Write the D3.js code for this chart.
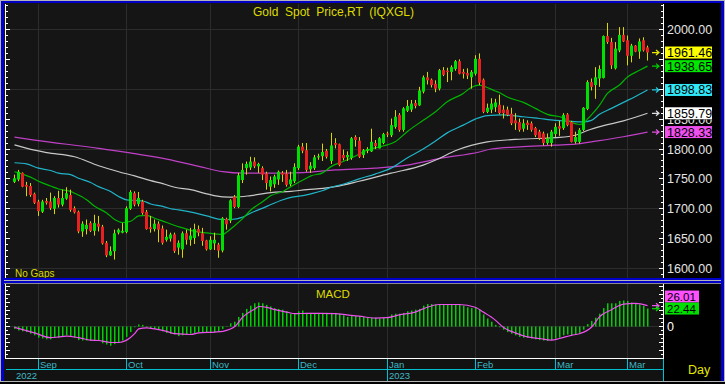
<!DOCTYPE html>
<html><head><meta charset="utf-8">
<script src="https://cdn.jsdelivr.net/npm/d3@7"></script>
<style>html,body{margin:0;padding:0;background:#000;overflow:hidden}svg{display:block}text{font-family:"Liberation Sans",Arial,sans-serif}</style>
</head><body><svg id="c" width="725" height="384"></svg>
<script>
// ---------- DATA ----------
const open=[1745,1749,1760,1740,1738,1725,1712,1695,1713,1712,1700,1718,1707,1717,1723,1701,1695,1662,1666,1676,1663,1675,1670,1643,1622,1629,1660,1660,1661,1700,1726,1708,1712,1695,1669,1666,1675,1667,1648,1650,1657,1635,1632,1659,1648,1651,1666,1659,1647,1632,1642,1640,1630,1683,1680,1720,1703,1748,1768,1769,1779,1771,1768,1759,1737,1741,1749,1760,1759,1741,1746,1768,1804,1798,1766,1768,1786,1788,1797,1780,1810,1808,1790,1786,1785,1820,1814,1790,1797,1796,1810,1801,1810,1826,1823,1837,1857,1832,1864,1866,1877,1873,1896,1920,1916,1909,1901,1932,1931,1929,1934,1947,1929,1927,1920,1926,1951,1916,1862,1866,1870,1874,1866,1866,1859,1848,1845,1834,1844,1843,1835,1829,1826,1810,1810,1825,1838,1835,1858,1845,1812,1812,1832,1867,1912,1907,1918,1919,1989,1979,1935,1965,1991,1982,1956,1973,1963,1982,1970];
const high=[1757,1765,1761,1745,1743,1727,1715,1715,1718,1727,1721,1730,1732,1736,1732,1704,1697,1679,1682,1679,1690,1688,1673,1646,1637,1665,1667,1676,1704,1731,1729,1728,1715,1698,1688,1682,1679,1672,1665,1660,1660,1647,1662,1665,1668,1675,1672,1668,1648,1654,1660,1643,1686,1685,1716,1723,1760,1776,1779,1787,1786,1777,1771,1762,1754,1757,1764,1763,1765,1762,1776,1807,1810,1810,1778,1790,1792,1809,1800,1827,1818,1809,1799,1796,1820,1823,1820,1800,1803,1834,1815,1820,1827,1829,1851,1865,1860,1870,1882,1882,1882,1904,1923,1929,1918,1915,1934,1937,1936,1940,1949,1950,1934,1935,1932,1957,1960,1918,1876,1885,1884,1891,1873,1871,1869,1860,1851,1850,1848,1846,1837,1832,1829,1826,1832,1843,1847,1860,1860,1847,1829,1835,1870,1915,1918,1937,1940,1990,2011,1986,1979,2004,2004,1990,1976,1974,1985,1987,1973];
const low=[1743,1746,1736,1721,1720,1708,1688,1693,1707,1698,1691,1702,1704,1715,1695,1692,1659,1653,1657,1661,1655,1662,1640,1619,1621,1615,1657,1659,1659,1698,1704,1704,1690,1665,1660,1662,1644,1640,1645,1645,1626,1623,1618,1640,1638,1641,1654,1638,1630,1631,1631,1618,1627,1665,1676,1701,1701,1743,1757,1765,1768,1760,1748,1732,1729,1735,1740,1745,1737,1738,1743,1765,1793,1762,1760,1765,1782,1780,1784,1775,1801,1771,1781,1780,1782,1804,1785,1785,1793,1795,1800,1801,1808,1820,1820,1834,1829,1829,1862,1862,1868,1872,1893,1908,1903,1895,1898,1922,1912,1915,1931,1925,1918,1917,1901,1923,1907,1860,1860,1860,1862,1858,1851,1855,1840,1832,1829,1829,1832,1829,1820,1815,1806,1807,1804,1820,1822,1832,1838,1811,1809,1809,1830,1865,1898,1884,1904,1918,1976,1934,1933,1962,1979,1940,1945,1962,1951,1963,1948];
const close=[1751,1762,1737,1737,1723,1710,1696,1712,1710,1701,1718,1707,1718,1726,1698,1694,1662,1675,1673,1663,1676,1670,1642,1622,1629,1659,1665,1663,1701,1728,1707,1718,1693,1666,1666,1675,1665,1643,1653,1657,1629,1643,1659,1648,1655,1666,1660,1646,1632,1648,1648,1630,1684,1674,1714,1703,1756,1765,1775,1779,1771,1775,1757,1743,1748,1754,1762,1757,1740,1749,1770,1804,1797,1765,1772,1786,1788,1795,1787,1806,1807,1773,1785,1790,1818,1815,1787,1798,1800,1812,1805,1818,1825,1824,1840,1854,1832,1868,1872,1876,1872,1898,1920,1915,1907,1901,1932,1924,1929,1937,1947,1926,1926,1923,1929,1951,1911,1862,1869,1876,1878,1860,1860,1857,1843,1843,1832,1843,1840,1832,1823,1818,1810,1818,1829,1837,1834,1857,1840,1812,1820,1832,1869,1912,1904,1920,1934,1989,1979,1940,1968,1991,1980,1956,1973,1963,1980,1965,1961.46];

// moving averages: [candle index, value] points
const maGreen=[[0,1762],[2,1758],[4,1753],[6,1746],[9,1738],[11,1733],[14,1729],[15,1726],[18,1715],[20,1704],[23,1693],[25,1682],[27,1677],[29,1679],[31,1688],[33,1689],[35,1684],[38,1677],[40,1672],[42,1668],[45,1662],[48,1659.5],[52,1657],[53,1661],[55,1672],[57,1684],[59,1698],[62,1712],[64,1722],[67,1729],[69,1737],[72,1748],[74,1755],[77,1760.5],[79,1770.5],[82,1779],[85,1788],[88,1798],[92,1805],[95,1812],[98,1829],[102,1848],[105,1862],[108,1879],[112,1893],[114,1903],[116,1907],[118,1903],[120,1897],[121,1894.5],[123,1887],[127,1878],[130,1868],[133,1858],[137,1852],[139,1844.5],[141,1841],[142,1843],[143,1850],[144,1857],[146,1873],[148,1893],[151,1907],[153,1920.5],[156,1931.7],[158,1938.65]];
const maCyan=[[0,1777],[3,1775],[6,1768],[9,1764],[11,1759.5],[14,1757],[16,1751],[19,1744],[21,1737],[24,1729],[26,1720.5],[28,1715],[30,1714],[32,1713],[34,1708],[37,1704],[39,1700],[41,1698],[45,1693],[48,1688],[52,1682],[54,1682],[57,1686],[59,1693],[62,1701],[64,1707],[67,1715],[69,1719],[72,1722],[74,1725],[77,1730.5],[79,1736],[82,1741],[86,1750],[90,1758],[94,1768],[98,1785],[102,1800],[105,1813],[108,1827],[112,1840],[115,1850],[118,1856],[122,1857],[127,1854],[131,1851],[135,1848],[138,1846.7],[142,1845.5],[144,1848],[146,1858],[149,1868],[152,1878],[155,1888],[158,1898.83]];
const maWhite=[[0,1807],[5,1798],[8,1794],[15,1787],[21,1772],[26,1762],[30,1755],[34,1747],[37,1742],[40,1736],[44,1732],[48,1725],[52,1720],[55,1719.5],[59,1722],[64,1727],[69,1729],[73,1732],[77,1734],[80,1737],[86,1746],[94,1759.5],[102,1773],[106,1784],[110,1797],[114,1806],[118,1812],[127,1816.7],[135,1819],[140,1823],[143,1831],[147,1839],[152,1847],[158,1859.79]];
const maMagenta=[[0,1820],[5,1815],[21,1801],[38,1783],[46,1771],[52,1762],[57,1759.5],[64,1759.5],[72,1760.5],[80,1765],[90,1768],[98,1773],[106,1784],[116,1795],[119,1800],[127,1804],[135,1806.5],[140,1808],[144,1812],[152,1820.5],[158,1828.33]];

const macd=[-3,-5,-6,-7,-9,-11,-14,-15,-16,-16,-14,-14,-12.5,-11,-12.5,-14,-17,-17.5,-17.5,-18,-17.5,-18,-21,-22.5,-24,-22,-20,-17.5,-13,-7,-1,2.5,2,-1,-2,-3,-4,-6,-8,-9,-10,-12,-11,-10,-9,-8,-7,-7,-8,-7,-7,-6,-3,0.5,4,6,12,17,22,26,29,30,29,27,25,23,22,21,19,16,16,19,20,17,17,17,17,17,17,17,17,16,14,12,13,13,13,12,11,11,11,10,11,12,15,16,16,17,19,20,21,22,26,28,28,27.5,28,28,28,28,28,27.5,26,24,23,24,21,15,10,6,2,-1,-4,-7,-9,-11,-13,-14,-14,-15,-16,-17,-17.5,-18,-17,-15,-14,-11,-10,-11,-10,-8,-4,3,7,11,16,23,29,29,29,32,32.5,32,30,29,27.5,26,22.44];
const signal=[[0,-1],[5,-8],[9,-14],[11,-13],[13,-12],[16,-14],[19,-17],[21,-17.5],[24,-20],[26,-20],[28,-17],[30,-9],[31,-3],[33,-1.7],[35,-3],[38,-6],[40,-9],[44,-10],[46,-8],[50,-7],[52,-6],[55,0],[57,12],[60,22],[61,25],[63,24],[65,21],[68,18],[70,16],[73,16.5],[76,16.5],[80,16],[83,14.5],[86,13],[90,10.5],[93,11],[96,14.5],[100,18],[103,24],[106,27.5],[111,27.5],[115,24],[117,18],[120,8],[122,-1],[125,-8],[128,-13],[131,-15],[134,-17],[136,-15],[139,-11],[141,-9],[144,-1],[146,12],[149,21],[152,28],[155,29],[158,26.01]];

const monthIdx=[6,28,49,71,93,115,135,153];
const monthLabels=["Sep","Oct","Nov","Dec","Jan","Feb","Mar","Mar"];
const yearIdx=[0,93];
const yearLabels=["2022","2023"];
// price labels that are visible (1950 and 1900 sit fully under the value tags)
const priceTicks=[1600,1650,1700,1750,1800,1850,2000];
const priceGrid=[1600,1700,1800,1900,2000];
const tagValues=[1961.46,1938.65,1898.83,1859.79,1828.33];
const macdTagValues=[26.01,22.44];

// ---------- DRAW ----------
const svg=d3.select("#c");
const L=6,R=663,mTop=3,mBot=278,qTop=284,qBot=358;
const x=d3.scaleLinear().domain([0,158]).range([14.5,647.5]);
const px=k=>Math.round(x(k)-0.5)+0.5;
const y=d3.scaleLinear().domain([1600,2000]).range([268.5,29.5]);
const ym=d3.scaleLinear().domain([0,30]).range([326.5,302.5]);
const snap=v=>Math.round(v-0.5)+0.5;
const grid="#2c2c2c";

svg.append("rect").attr("width",725).attr("height",384).attr("fill","#000");
svg.append("rect").attr("x",4).attr("y",mTop).attr("width",R-4).attr("height",mBot-mTop).attr("fill","#151515");
svg.append("rect").attr("x",4).attr("y",qTop).attr("width",R-4).attr("height",qBot-qTop).attr("fill","#151515");
svg.append("rect").attr("x",4).attr("y",qBot+1).attr("width",R-4).attr("height",381-qBot-1).attr("fill","#121212");

const defs=svg.append("defs");
defs.append("clipPath").attr("id","cm").append("rect").attr("x",L).attr("y",mTop+1).attr("width",R-L).attr("height",mBot-mTop-1);
defs.append("clipPath").attr("id","cq").append("rect").attr("x",L).attr("y",qTop).attr("width",R-L).attr("height",qBot-qTop);
defs.append("clipPath").attr("id","c1850").append("rect").attr("x",664).attr("y",119.6).attr("width",57).attr("height",8);

// grid
const g=svg.append("g");
priceGrid.forEach(p=>g.append("line").attr("x1",L).attr("x2",R).attr("y1",snap(y(p))).attr("y2",snap(y(p))).attr("stroke",grid));
monthIdx.forEach(k=>{
  g.append("line").attr("x1",px(k)).attr("x2",px(k)).attr("y1",mTop+1).attr("y2",mBot).attr("stroke",grid);
  g.append("line").attr("x1",px(k)).attr("x2",px(k)).attr("y1",qTop).attr("y2",qBot).attr("stroke",grid);
});
g.append("line").attr("x1",L).attr("x2",R).attr("y1",snap(ym(0))).attr("y2",snap(ym(0))).attr("stroke",grid);

// moving averages
const main=svg.append("g").attr("clip-path","url(#cm)");
const line=d3.line().x(d=>x(d[0])).y(d=>y(d[1])).curve(d3.curveMonotoneX);
[[maMagenta,"#c040c8"],[maWhite,"#c8c8c8"],[maCyan,"#20b4c8"],[maGreen,"#00b400"]].forEach(([d,c])=>{
  main.append("path").datum(d).attr("d",line).attr("fill","none").attr("stroke",c).attr("stroke-width",1.2);
});

// candles
const idx=d3.range(close.length);
main.selectAll("line.w").data(idx).enter().append("line")
  .attr("x1",k=>px(k)).attr("x2",k=>px(k)).attr("y1",k=>y(high[k])).attr("y2",k=>y(low[k]))
  .attr("stroke","#d8d800").attr("stroke-width",1);
main.selectAll("rect.b").data(idx).enter().append("rect")
  .attr("x",k=>px(k)-1.5).attr("width",3)
  .attr("y",k=>y(Math.max(open[k],close[k])))
  .attr("height",k=>Math.max(1.2,Math.abs(y(open[k])-y(close[k]))))
  .attr("fill",k=>close[k]>=open[k]?"#00e000":"#e82020");

// MACD
const q=svg.append("g").attr("clip-path","url(#cq)");
q.selectAll("rect").data(idx).enter().append("rect")
  .attr("x",k=>px(k)-0.5).attr("width",1.5)
  .attr("y",k=>Math.min(ym(0),ym(macd[k]))).attr("height",k=>Math.abs(ym(macd[k])-ym(0)))
  .attr("fill","#00d000");
q.append("path").datum(signal).attr("d",d3.line().x(d=>x(d[0])).y(d=>ym(d[1])).curve(d3.curveMonotoneX))
  .attr("fill","none").attr("stroke","#f050f0").attr("stroke-width",1.2);

// axes lines and ticks
const ax=svg.append("g").attr("stroke","#fff");
ax.append("line").attr("x1",5.5).attr("x2",5.5).attr("y1",mTop+1).attr("y2",mBot);
ax.append("line").attr("x1",663.5).attr("x2",663.5).attr("y1",mTop+1).attr("y2",mBot);
ax.append("line").attr("x1",5.5).attr("x2",5.5).attr("y1",qTop).attr("y2",qBot);
ax.append("line").attr("x1",663.5).attr("x2",663.5).attr("y1",qTop).attr("y2",qBot);
ax.append("line").attr("x1",5).attr("x2",664).attr("y1",358.5).attr("y2",358.5);
for(let p=1590;p<=2040;p+=10){
  const yy=snap(y(p)); if(yy<mTop+2||yy>mBot-1) continue;
  const maj=p%50===0;
  ax.append("line").attr("x1",6).attr("x2",maj?10:8).attr("y1",yy).attr("y2",yy);
  ax.append("line").attr("x1",maj?659:661).attr("x2",663).attr("y1",yy).attr("y2",yy);
}
for(let v=-40;v<=70;v+=5){
  const yy=snap(ym(v)); if(yy<qTop+2||yy>qBot-1) continue;
  const maj=v%10===0;
  ax.append("line").attr("x1",6).attr("x2",maj?10:8).attr("y1",yy).attr("y2",yy);
  ax.append("line").attr("x1",maj?659:661).attr("x2",663).attr("y1",yy).attr("y2",yy);
}

// price axis labels
priceTicks.forEach(p=>{
  const t=svg.append("text").attr("x",667).attr("y",y(p)+4.5).attr("font-size",12.5).attr("fill","#e4e4e4").text(p.toFixed(2));
  if(p===1850) t.attr("clip-path","url(#c1850)");
});

// tags on the right
function tags(vals,sc,cols,h,w,ptColors,fs){
  const ys=vals.map(v=>sc(v)); const pos=ys.slice();
  for(let i=pos.length-2;i>=0;i--) pos[i]=Math.min(pos[i],pos[i+1]-h);
  vals.forEach((v,i)=>{
    svg.append("rect").attr("x",665).attr("y",pos[i]-h/2).attr("width",w).attr("height",h).attr("fill",cols[i]);
    svg.append("text").attr("x",667).attr("y",pos[i]+fs*0.36).attr("font-size",fs).attr("fill","#000").text(v.toFixed(2));
    const yy=ys[i];
    svg.append("path").attr("d",`M652,${yy}H659M656,${yy-2.5}L659,${yy}L656,${yy+2.5}`).attr("stroke",ptColors[i]).attr("fill","none").attr("stroke-width",1.2);
  });
}
tags(tagValues,y,["#ffff00","#00e800","#30e8f8","#ffffff","#f050f0"],12,47,["#e8e800","#00d000","#20c8e0","#e0e0e0","#e050e0"],12.5);
tags(macdTagValues,ym,["#ff50ff","#00e000"],12,34,["#f050f0","#00d000"],11.5);
svg.append("text").attr("x",667).attr("y",ym(0)+4.5).attr("font-size",12.5).attr("fill","#fff").text("0");

// titles
svg.append("text").attr("x",253).attr("y",15.5).attr("font-size",12).attr("fill","#dcdc00").style("white-space","pre").text("Gold  Spot  Price,RT  (IQXGL)");
svg.append("text").attr("x",15).attr("y",277).attr("font-size",10).attr("fill","#dcdc00").text("No Gaps");
svg.append("text").attr("x",316).attr("y",298).attr("font-size",11.5).attr("fill","#dcdc00").text("MACD");

// date axis
const cy="#00c0d0";
svg.append("line").attr("x1",L).attr("x2",R).attr("y1",369.5).attr("y2",369.5).attr("stroke",cy);
svg.append("line").attr("x1",663.5).attr("x2",663.5).attr("y1",359).attr("y2",381).attr("stroke",cy);
monthIdx.forEach((k,i)=>{
  svg.append("line").attr("x1",px(k)).attr("x2",px(k)).attr("y1",359).attr("y2",369).attr("stroke",cy);
  svg.append("text").attr("x",px(k)+1.5).attr("y",368).attr("font-size",9.5).attr("fill","#40b8c4").text(monthLabels[i]);
});
yearIdx.forEach((k,i)=>{
  if(k>0) svg.append("line").attr("x1",px(k)).attr("x2",px(k)).attr("y1",369).attr("y2",381).attr("stroke",cy);
  svg.append("text").attr("x",px(k)+1.5).attr("y",378.5).attr("font-size",9.5).attr("fill","#40b8c4").text(yearLabels[i]);
});
svg.append("text").attr("x",688).attr("y",373.5).attr("font-size",12.5).attr("fill","#e8e800").text("Day");

// frame
const blue="#0000c8", gray="#b4b4b4";
const fr=(x0,y0,w,h,c)=>svg.append("rect").attr("x",x0).attr("y",y0).attr("width",w).attr("height",h).attr("fill",c);
fr(0,0,725,1,gray); fr(0,1,725,2,blue);
fr(0,278,725,2,blue); fr(0,280,725,1,gray); fr(0,281,725,2,blue); fr(0,283,725,1,"#8c8c8c");
fr(0,381,725,1,gray); fr(0,382,725,2,"#000");
fr(0,0,1,381,gray); fr(1,1,3,380,blue);
fr(721,1,3,380,blue); fr(724,0,1,381,gray);
</script></body></html>
